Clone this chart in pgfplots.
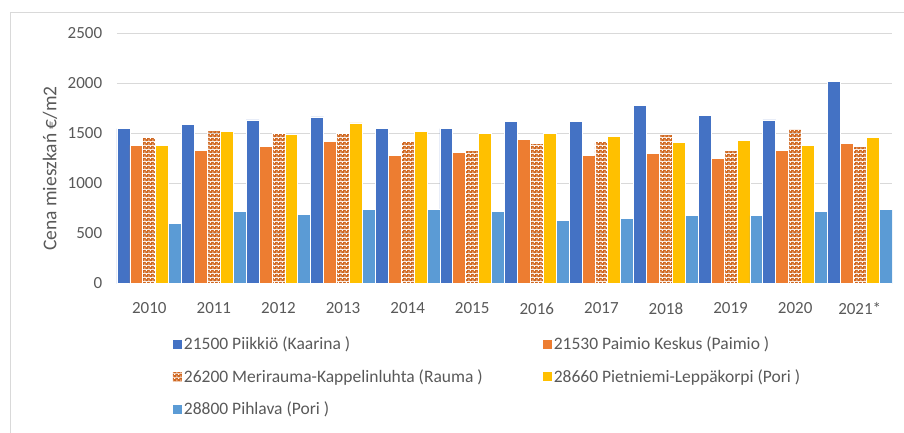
\documentclass[border=0pt]{standalone}
\usepackage{pgfplots}
\pgfplotsset{compat=1.18}
\usepackage{fontspec}
\setmainfont{Carlito}
\usetikzlibrary{patterns}
\definecolor{cblue}{HTML}{4472C4}
\definecolor{corange}{HTML}{ED7D31}
\definecolor{cyellow}{HTML}{FFC000}
\definecolor{clblue}{HTML}{5B9BD5}
\definecolor{chatch}{HTML}{D0661E}
\definecolor{cgrid}{HTML}{D9D9D9}
\definecolor{ctext}{HTML}{595959}
\pgfdeclarepatterninherentlycolored{xdots}{\pgfpointorigin}{\pgfqpoint{4pt}{4pt}}{\pgfqpoint{4pt}{4pt}}{%
  \pgfsetfillcolor{chatch}%
  \pgfpathrectangle{\pgfpointorigin}{\pgfqpoint{4pt}{4pt}}\pgfusepath{fill}%
  \pgfsetfillcolor{white}%
  \pgfpathrectangle{\pgfqpoint{0.4pt}{0.4pt}}{\pgfqpoint{1.2pt}{1.2pt}}\pgfusepath{fill}%
  \pgfpathrectangle{\pgfqpoint{2.4pt}{2.4pt}}{\pgfqpoint{1.2pt}{1.2pt}}\pgfusepath{fill}%
}
\pgfplotstableread{
x  a    b    c    d    e
0  1550 1384 1460 1384 604
1  1593 1331 1533 1520 724
2  1636 1371 1503 1490 694
3  1666 1417 1503 1606 737
4  1550 1284 1417 1520 737
5  1550 1311 1331 1503 724
6  1620 1444 1401 1503 634
7  1620 1281 1417 1474 651
8  1782 1298 1490 1414 680
9  1679 1251 1328 1430 680
10 1636 1328 1547 1384 724
11 2018 1401 1371 1457 737
}\datatable
\begin{document}
\fontsize{17}{20}\selectfont
\begin{tikzpicture}
\useasboundingbox (-117pt,-148.5pt) rectangle (787pt,283.5pt);
\draw[cgrid, line width=1pt] (-106pt,-150pt) -- (-106pt,271.5pt) -- (790pt,271.5pt);
\begin{axis}[
  at={(0pt,0pt)}, anchor=south west,
  scale only axis, width=775pt, height=250pt,
  ybar, bar width=0.2,
  xmin=-0.5, xmax=11.5, ymin=0, ymax=2500,
  ytick={0,500,1000,1500,2000,2500},
  xtick=data,
  xticklabels={2010,2011,2012,2013,2014,2015,2016,2017,2018,2019,2020,2021*},
  /pgf/number format/assume math mode=true,
  /pgf/number format/1000 sep={},
  ymajorgrids, grid style={cgrid, line width=1pt},
  axis line style={draw=none},
  tick style={draw=none},
  ticklabel style={text=ctext, font=\fontsize{17}{20}\selectfont},
  yticklabel style={xshift=-9pt},
  xticklabel style={yshift=-9pt},
  ylabel={Cena mieszkań €/m2},
  ylabel style={at={(axis description cs:-0.0865,0.46)}, anchor=center, text=ctext, font=\fontsize{19.5}{20}\selectfont},
  legend columns=2,
  legend cell align=left,
  legend style={draw=none, fill=none, at={(axis description cs:0.068,-0.195)}, anchor=north west,
    font=\fontsize{17.5}{20}\selectfont, text=ctext, row sep=13.5pt,
    /tikz/column 2/.style={column sep=58pt}},
  legend image code/.code={\draw[#1, draw=none] (0pt,-4.5pt) rectangle (9pt,4.5pt);},
]
\addplot[fill=cblue, draw=white, line width=0.8pt, bar shift=-0.4] table[x=x,y=a]{\datatable};
\addplot[fill=corange, draw=white, line width=0.8pt, bar shift=-0.2] table[x=x,y=b]{\datatable};
\addplot[pattern=xdots, draw=white, line width=0.8pt, bar shift=0] table[x=x,y=c]{\datatable};
\addplot[fill=cyellow, draw=white, line width=0.8pt, bar shift=0.2] table[x=x,y=d]{\datatable};
\addplot[fill=clblue, draw=white, line width=0.8pt, bar shift=0.4] table[x=x,y=e]{\datatable};
\legend{21500 Piikkiö (Kaarina ),21530 Paimio Keskus (Paimio ),26200 Merirauma-Kappelinluhta (Rauma ),28660 Pietniemi-Leppäkorpi (Pori ),28800 Pihlava (Pori )}
\end{axis}
\end{tikzpicture}
\end{document}
